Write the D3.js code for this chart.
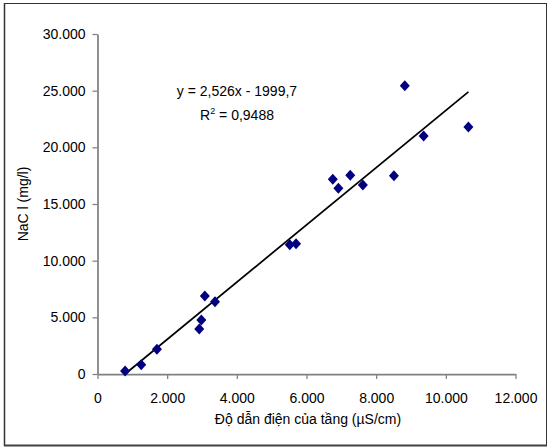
<!DOCTYPE html>
<meta charset="utf-8">
<style>
  body { margin: 0; background: #fff; }
  text { font-family: Arial, "Liberation Sans", sans-serif; }
</style>
<body>
<script src="https://cdn.jsdelivr.net/npm/d3@7/dist/d3.min.js"></script>
<script>

// conductivity (uS/cm) vs NaCl (mg/l)
var conductivity = [792, 1255, 1706, 2921, 2981, 3081, 3373, 5520, 5700, 6755, 6915, 7256, 7618, 8510, 8822, 9363, 10648];
var nacl         = [265,  820, 2180, 3970, 4765, 6880, 6380, 11410, 11500, 17180, 16380, 17530, 16680, 17500, 25440, 21000, 21790];

var xTicks = [0, 2000, 4000, 6000, 8000, 10000, 12000];
var yTicks = [0, 5000, 10000, 15000, 20000, 25000, 30000];

var slope = 2.526,
    intercept = -1999.7;

var width = 548,
    height = 447;

var x = d3.scaleLinear().domain([0, 12000]).range([97.5, 515.5]);
var y = d3.scaleLinear().domain([0, 30000]).range([374, 34]);

var vi = d3.formatLocale({decimal: ",", thousands: ".", grouping: [3], currency: ["", ""]});
var fmt = vi.format(",");

var svg = d3.select("body").append("svg")
    .attr("width", width)
    .attr("height", height);

// frame
svg.append("line").attr("x1", 4.5).attr("y1", 3).attr("x2", 4.5).attr("y2", 446)
    .attr("stroke", "#333").attr("stroke-width", 1.5);
svg.append("line").attr("x1", 4).attr("y1", 3.5).attr("x2", 547).attr("y2", 3.5)
    .attr("stroke", "#333").attr("stroke-width", 1);
svg.append("line").attr("x1", 546.5).attr("y1", 3).attr("x2", 546.5).attr("y2", 446)
    .attr("stroke", "#333").attr("stroke-width", 1);
svg.append("line").attr("x1", 4).attr("y1", 445.5).attr("x2", 547).attr("y2", 445.5)
    .attr("stroke", "#404040").attr("stroke-width", 2);

var xAxis = svg.append("g")
    .attr("transform", "translate(0," + y(0) + ")")
    .call(d3.axisBottom(x).tickValues(xTicks).tickFormat(fmt).tickSize(5).tickSizeOuter(0).tickPadding(14.5));

var yAxis = svg.append("g")
    .attr("transform", "translate(" + x(0) + ",0)")
    .call(d3.axisLeft(y).tickValues(yTicks).tickFormat(fmt).tickSize(5).tickSizeOuter(0).tickPadding(7));

[xAxis, yAxis].forEach(function(g) {
  g.select(".domain").attr("stroke", "#808080").attr("stroke-width", 1.75);
  g.selectAll(".tick line").attr("stroke", "#808080").attr("stroke-width", 1.25);
  g.selectAll(".tick text").attr("fill", "#000").style("font-size", "14px")
    .style("font-family", "Arial, 'Liberation Sans', sans-serif");
});

// trendline over the data range
var x0 = d3.min(conductivity), x1 = d3.max(conductivity);
svg.append("line")
    .attr("x1", x(x0)).attr("y1", y(slope * x0 + intercept))
    .attr("x2", x(x1)).attr("y2", y(slope * x1 + intercept))
    .attr("stroke", "#000")
    .attr("stroke-width", 1.75);

// diamonds
var pts = conductivity.map(function(c, i) { return [c, nacl[i]]; });
svg.selectAll(".pt")
    .data(pts)
    .enter().append("path")
    .attr("class", "pt")
    .attr("d", "M0,-5.5L5,0L0,5.5L-5,0Z")
    .attr("transform", function(d) { return "translate(" + x(d[0]) + "," + y(d[1]) + ")"; })
    .attr("fill", "#000080");

// equation label
svg.append("text")
    .attr("x", 237).attr("y", 96)
    .attr("text-anchor", "middle")
    .style("font-size", "14px")
    .text("y = 2,526x - 1999,7");

var r2 = svg.append("text")
    .attr("x", 237).attr("y", 119.5)
    .attr("text-anchor", "middle")
    .style("font-size", "14px");
r2.append("tspan").text("R");
r2.append("tspan").attr("dy", -6).style("font-size", "9px").text("2");
r2.append("tspan").attr("dy", 6).text(" = 0,9488");

// axis titles
svg.append("text")
    .attr("x", 308).attr("y", 423.5)
    .attr("text-anchor", "middle")
    .style("font-size", "14px")
    .text("Độ dẫn điện của tầng (µS/cm)");

svg.append("text")
    .attr("transform", "translate(28,204) rotate(-90)")
    .attr("text-anchor", "middle")
    .style("font-size", "14px")
    .text("NaC l (mg/l)");

</script>
